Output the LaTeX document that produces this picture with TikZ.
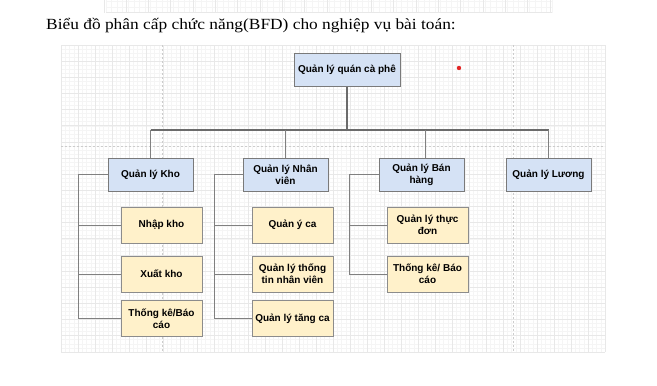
\documentclass[tikz,border=0pt]{standalone}
\usepackage{fontspec}
\setmainfont{Liberation Serif}
\newfontfamily\boxfont{Liberation Sans}
\begin{document}
\begin{tikzpicture}[x=1pt,y=-1pt,
  gridminor/.style={draw=black!4,line width=0.5pt},
  gridmajor/.style={draw=black!9,line width=0.7pt},
  pagebreak/.style={draw=black!20,line width=0.6pt,dash pattern=on 2pt off 2pt},
  boxbase/.style={draw=black!52,line width=1pt,align=center,inner sep=0pt,
    font=\boxfont\fontsize{10}{12}\selectfont\bfseries},
  l1/.style={boxbase,fill=blue1,minimum width=85pt,minimum height=33pt},
  l2/.style={boxbase,draw=black!45,fill=yellow1,minimum width=81pt,minimum height=36pt},
  link/.style={draw=black!50,line width=1pt},
  bus/.style={draw=black!58,line width=1.3pt}
]
\definecolor{blue1}{HTML}{D5E2F5}
\definecolor{yellow1}{HTML}{FFF1CA}
\definecolor{reddot}{HTML}{E32626}

\path[use as bounding box,fill=white] (0,0) rectangle (657,386);

% faint grid strip along the top edge
\foreach \i in {0,...,80} \draw[gridminor] (106+\i*5.575,0) -- (106+\i*5.575,12.5);
\foreach \j in {1.5,7} \draw[gridminor] (106,\j) -- (552,\j);
\foreach \i in {0,...,20} \draw[gridmajor] (103.9+\i*22.3,0) -- (103.9+\i*22.3,12.5);
\draw[gridmajor] (106,12.5) -- (552,12.5);

% drawing grid behind the chart
\foreach \i in {0,...,128} \draw[gridminor] (61+\i*4.25,45) -- (61+\i*4.25,352);
\foreach \j in {0,...,76} \draw[gridminor] (61,45+\j*4.0375) -- (605,45+\j*4.0375);
\foreach \i in {0,...,32} \draw[gridmajor] (61+\i*17,45) -- (61+\i*17,352);
\foreach \j in {0,...,19} \draw[gridmajor] (61,45+\j*16.15) -- (605,45+\j*16.15);
\draw[pagebreak] (162.5,45) -- (162.5,352);
\draw[pagebreak] (513.5,45) -- (513.5,352);
\draw[pagebreak] (61,146) -- (605,146);

% heading
\node[anchor=base west,inner sep=0pt,xscale=1.12,font=\fontsize{15.5}{18}\selectfont] (title) at (46,29)
  {Biểu đồ phân cấp chức năng(BFD) cho nghiệp vụ bài toán:};

% root
\node[l1,minimum width=106pt] (root) at (347,69.5) {Quản lý quán cà phê};

% second level
\node[l1] (kho) at (150.5,174.5) {Quản lý Kho};
\node[l1] (nv)  at (285.5,174.5) {Quản lý Nhân\\viên};
\node[l1] (bh)  at (421.5,174.5) {Quản lý Bán\\hàng};
\node[l1] (luong) at (548.5,174.5) {Quản lý Lương};

% third level
\node[l2] (k1) at (161.5,225) {Nhập kho};
\node[l2] (k2) at (161.5,274) {Xuất kho};
\node[l2] (k3) at (161.5,318.5) {Thống kê/Báo\\cáo};
\node[l2] (n1) at (292.5,225) {Quản ý ca};
\node[l2] (n2) at (292.5,274) {Quản lý thống\\tin nhân viên};
\node[l2] (n3) at (292.5,318.5) {Quản lý tăng ca};
\node[l2] (b1) at (427.5,225) {Quản lý thực\\đơn};
\node[l2] (b2) at (427.5,274) {Thống kê/ Báo\\cáo};

% bus and rails
\coordinate (busy) at (0,130);
\coordinate (railk) at (78,0);
\coordinate (railn) at (214,0);
\coordinate (railb) at (349,0);

\draw[bus] (root.south) -- (root.south |- busy);
\draw[link] (kho.north) -- (kho.north |- busy);
\draw[bus] (kho.north |- busy) -- (luong.north |- busy);
\draw[link] (nv.north) -- (nv.north |- busy);
\draw[link] ([xshift=4pt]bh.north) -- ([xshift=4pt]bh.north |- busy);
\draw[link] (luong.north) -- (luong.north |- busy);

\draw[link] (kho.west) -- (kho.west -| railk) -- (k3.west -| railk) -- (k3.west);
\draw[link] (k1.west -| railk) -- (k1.west);
\draw[link] (k2.west -| railk) -- (k2.west);

\draw[link] (nv.west) -- (nv.west -| railn) -- (n3.west -| railn) -- (n3.west);
\draw[link] (n1.west -| railn) -- (n1.west);
\draw[link] (n2.west -| railn) -- (n2.west);

\draw[link] (bh.west) -- (bh.west -| railb) -- (b2.west -| railb) -- (b2.west);
\draw[link] (b1.west -| railb) -- (b1.west);

% marker dot
\fill[reddot] (459,68) circle (2.2);
\end{tikzpicture}
\end{document}
